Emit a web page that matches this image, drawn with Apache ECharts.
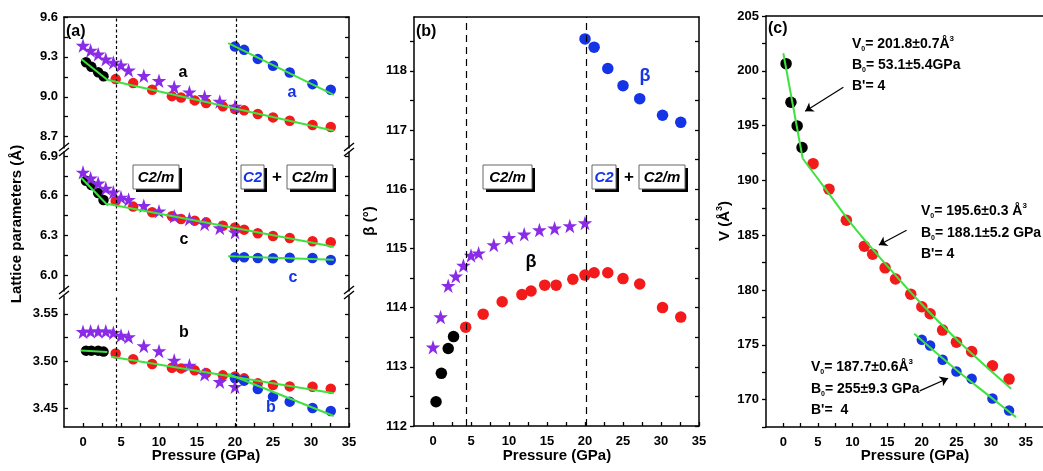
<!DOCTYPE html>
<html><head><meta charset="utf-8">
<script src="https://cdn.jsdelivr.net/npm/echarts@6/dist/echarts.min.js"></script>
<style>html,body{margin:0;padding:0;background:#fff}#c{width:1043px;height:471px}</style>
</head><body><div id="c"></div>
<script>
// ---------- data ----------
const P_black = [0.4, 1.1, 2.0, 2.7];
const P_star = [0, 1, 2, 3, 4, 5, 6, 8, 10, 12, 14, 16, 18, 20];
const P_red = [4.3, 6.6, 9.1, 11.7, 12.9, 14.7, 16.2, 18.4, 20.0, 21.2, 23.0, 25.0, 27.2, 30.2, 32.6];
const P_blue = [20.0, 21.2, 23.0, 25.0, 27.2, 30.2, 32.6];
const P_transition = [4.35, 20.1];

// (a) lattice parameter a
const a_black = [9.26, 9.225, 9.185, 9.155];
const a_star = [9.385, 9.348, 9.32, 9.283, 9.258, 9.238, 9.2, 9.158, 9.12, 9.073, 9.035, 9.0, 8.965, 8.928];
const a_red = [9.133, 9.103, 9.053, 9.005, 8.995, 8.973, 8.953, 8.928, 8.908, 8.898, 8.87, 8.845, 8.82, 8.788, 8.773];
const a_blue = [9.378, 9.353, 9.285, 9.233, 9.183, 9.095, 9.053];
// (a) lattice parameter c
const c_black = [6.713, 6.68, 6.62, 6.567];
const c_star = [6.776, 6.731, 6.693, 6.655, 6.625, 6.587, 6.57, 6.524, 6.482, 6.444, 6.424, 6.386, 6.356, 6.323];
const c_red = [6.56, 6.517, 6.474, 6.444, 6.424, 6.411, 6.398, 6.373, 6.36, 6.343, 6.315, 6.295, 6.28, 6.255, 6.247];
const c_blue = [6.134, 6.134, 6.129, 6.126, 6.131, 6.129, 6.114];
// (a) lattice parameter b
const b_black = [3.511, 3.511, 3.511, 3.510];
const b_star = [3.531, 3.5315, 3.5315, 3.5315, 3.530, 3.527, 3.5255, 3.516, 3.5106, 3.5007, 3.4954, 3.4859, 3.478, 3.4728];
const b_red = [3.5081, 3.5018, 3.4968, 3.4929, 3.4922, 3.4901, 3.4873, 3.4848, 3.4837, 3.4816, 3.4763, 3.4746, 3.4731, 3.4728, 3.4707];
const b_blue = [3.4816, 3.4792, 3.4703, 3.4622, 3.4569, 3.4502, 3.447];
// fits in (a)
const fit_a_black = [[-0.2, 9.283], [3.2, 9.128]];
const fit_a_red = [[3.2, 9.128], [33.0, 8.745]];
const fit_a_blue = [[19.1, 9.403], [33.0, 9.015]];
const fit_c_black = [[-0.3, 6.739], [3.3, 6.524]];
const fit_c_red = [[3.3, 6.537], [33.0, 6.214]];
const fit_c_blue = [[19.1, 6.141], [33.0, 6.116]];
const fit_b_black = [[-0.3, 3.5113], [3.2, 3.5095]];
const fit_b_red = [[3.7, 3.5046], [33.0, 3.4657]];
const fit_b_blue = [[19.1, 3.4862], [33.0, 3.4417]];

// (b) beta angle
const beta_black = [112.41, 112.89, 113.31, 113.51];
const beta_star = [113.33, 113.84, 114.37, 114.53, 114.71, 114.88, 114.92, 115.06, 115.18, 115.24, 115.31, 115.34, 115.38, 115.43];
const beta_red = [113.67, 113.89, 114.10, 114.22, 114.28, 114.38, 114.38, 114.48, 114.55, 114.59, 114.59, 114.49, 114.40, 114.0, 113.84];
const beta_blue = [118.54, 118.40, 118.04, 117.75, 117.53, 117.25, 117.13];

// (c) volume
const V_black = [200.65, 197.13, 194.97, 193.0];
const V_red = [191.53, 189.2, 186.37, 184.0, 183.27, 182.02, 181.0, 179.62, 178.47, 177.83, 176.34, 175.24, 174.39, 173.09, 171.87];
const V_blue = [175.45, 174.94, 173.63, 172.57, 171.9, 170.1, 169.0];
const fit_V_black = [[0.0, 201.6], [2.8, 192.0]];
const fit_V_red = [[2.8, 192.0], [6, 189.3], [10, 185.9], [15, 182.2], [20, 178.7], [25, 175.5], [30, 172.6], [32.9, 171.0]];
const fit_V_blue = [[18.9, 176.0], [25, 172.7], [30, 170.2], [33.6, 168.4]];
// arrows (data coords in panel c): [from, to]
const arrows_c = [[[8.67, 198.5], [3.16, 196.3]], [[17.8, 185.46], [13.8, 184.1]], [[19.7, 170.8], [23.8, 171.95]]];

// tick labels
const xLabels = [0, 5, 10, 15, 20, 25, 30, 35];
const xTicks = [0, 2.5, 5, 7.5, 10, 12.5, 15, 17.5, 20, 22.5, 25, 27.5, 30, 32.5, 35];
const yA_labels = [8.7, 9.0, 9.3, 9.6];
const yA_ticks = [8.7, 8.85, 9.0, 9.15, 9.3, 9.45, 9.6];
const yC_labels = [6.0, 6.3, 6.6, 6.9];
const yC_ticks = [5.85, 6.0, 6.15, 6.3, 6.45, 6.6, 6.75, 6.9];
const yB_labels = [3.45, 3.50, 3.55];
const yB_ticks = [3.45, 3.475, 3.50, 3.525, 3.55];
const yBeta_labels = [112, 113, 114, 115, 116, 117, 118];
const yBeta_ticks = [112, 112.5, 113, 113.5, 114, 114.5, 115, 115.5, 116, 116.5, 117, 117.5, 118, 118.5];
const yV_labels = [170, 175, 180, 185, 190, 195, 200, 205];
const yV_ticks = [167.5, 170, 172.5, 175, 177.5, 180, 182.5, 185, 187.5, 190, 192.5, 195, 197.5, 200, 202.5, 205];

// ---------- style ----------
const FONT = '"Liberation Sans", Arial, sans-serif';
const RED = '#F21A1A', BLUE = '#1434E6', PURPLE = '#8A2BE8', GREEN = '#3EE23E', BLACK = '#000';
const STAR = 'path://M50,0 L61.8,35.4 L99,35.4 L69,57.3 L80.3,93 L50,71 L19.7,93 L31,57.3 L1,35.4 L38.2,35.4 Z';

const zip = (xs, ys) => xs.map((x, i) => [x, ys[i]]);

const grids = [
  {left: 64, top: 17, width: 285, height: 131},
  {left: 64, top: 152, width: 285, height: 139},
  {left: 64, top: 296, width: 285, height: 131},
  {left: 414, top: 17, width: 285, height: 409},
  {left: 766, top: 16, width: 290, height: 411}
];

const lineStyle = {color: '#000', width: 1.5};
function xAx(grid, opts) {
  return Object.assign({
    type: 'value', gridIndex: grid, min: -2.5, max: 35, position: 'bottom',
    axisLine: {show: true, onZero: false, lineStyle},
    axisTick: {show: true, inside: true, length: 4, customValues: xTicks, lineStyle: {width: 1.3}},
    axisLabel: {show: true, customValues: xLabels, margin: 9, color: '#000', fontFamily: FONT, fontWeight: 'bold', fontSize: 13},
    splitLine: {show: false}
  }, opts);
}
function topAx(grid, max) {
  return {type: 'value', gridIndex: grid, min: -2.5, max: max, position: 'top',
    axisLine: {show: true, onZero: false, lineStyle}, axisTick: {show: false}, axisLabel: {show: false}, splitLine: {show: false}};
}
function yAx(grid, min, max, labels, ticks, dec, inside, pos) {
  const show = pos !== 'right';
  return {
    type: 'value', gridIndex: grid, min, max, position: pos || 'left',
    axisLine: {show: true, onZero: false, lineStyle},
    axisTick: {show: true, inside: inside, length: 4, customValues: ticks, lineStyle: {width: 1.3}},
    axisLabel: {show: show, customValues: labels, margin: inside ? 6 : 7, color: '#000', fontFamily: FONT, fontWeight: 'bold', fontSize: 13,
      formatter: v => v.toFixed(dec)},
    splitLine: {show: false}
  };
}

const xAxis = [
  topAx(0, 35),                       // 0 grid0 (top edge)
  xAx(1, {show: false}),              // 1 grid1
  xAx(2, {}),                         // 2 grid2
  xAx(3, {}),                         // 3 grid3
  topAx(3, 35),                       // 4 grid3 top
  xAx(4, {max: 37.5}),                // 5 grid4
  topAx(4, 37.5)                      // 6 grid4 top
];
const yAxis = [
  yAx(0, 8.615, 9.6, yA_labels, yA_ticks, 1, true),
  yAx(0, 8.615, 9.6, yA_labels, yA_ticks, 1, true, 'right'),
  yAx(1, 5.879, 6.93, yC_labels, yC_ticks, 1, true),
  yAx(1, 5.879, 6.93, yC_labels, yC_ticks, 1, true, 'right'),
  yAx(2, 3.430, 3.569, yB_labels, yB_ticks, 2, true),
  yAx(2, 3.430, 3.569, yB_labels, yB_ticks, 2, true, 'right'),
  yAx(3, 112, 118.91, yBeta_labels, yBeta_ticks, 0, false),
  yAx(3, 112, 118.91, yBeta_labels, yBeta_ticks, 0, true, 'right'),
  yAx(4, 167.5, 205, yV_labels, yV_ticks, 0, false)
];

const series = [];
function sc(xs, ys, color, xi, yi, symbol, size, extra) {
  series.push(Object.assign({type: 'scatter', xAxisIndex: xi, yAxisIndex: yi, data: zip(xs, ys),
    symbol: symbol || 'circle', symbolSize: size || 11, itemStyle: {color: color, opacity: 1}, silent: true, z: 3}, extra || {}));
}
function fit(pts, xi, yi) {
  series.push({type: 'line', xAxisIndex: xi, yAxisIndex: yi, data: pts, showSymbol: false, symbol: 'none', smooth: pts.length > 2 ? 0.3 : false,
    lineStyle: {color: GREEN, width: 2}, silent: true, z: 5});
}
function vlines(dash) {
  return {silent: true, symbol: 'none', label: {show: false},
    lineStyle: {color: '#000', width: 1.2, type: dash}, data: P_transition.map(p => ({xAxis: p}))};
}

// panel (a)
const panelA = [
  {xi: 0, yi: 0, bl: a_black, st: a_star, rd: a_red, bu: a_blue, fits: [fit_a_black, fit_a_red, fit_a_blue]},
  {xi: 1, yi: 2, bl: c_black, st: c_star, rd: c_red, bu: c_blue, fits: [fit_c_black, fit_c_red, fit_c_blue]},
  {xi: 2, yi: 4, bl: b_black, st: b_star, rd: b_red, bu: b_blue, fits: [fit_b_black, fit_b_red, fit_b_blue]}
];
panelA.forEach(p => {
  sc(P_red, p.rd, RED, p.xi, p.yi, 'circle', 10.5, {markLine: vlines([3, 2.5])});
  sc(P_blue, p.bu, BLUE, p.xi, p.yi, 'circle', 10.5);
  sc(P_black, p.bl, BLACK, p.xi, p.yi, 'circle', 10.5);
  sc(P_star, p.st, PURPLE, p.xi, p.yi, STAR, 14.5);
  p.fits.forEach(f => fit(f, p.xi, p.yi));
});
// panel (b)
sc(P_red, beta_red, RED, 3, 6, 'circle', 11.5, {markLine: vlines([7, 5])});
sc(P_blue, beta_blue, BLUE, 3, 6, 'circle', 11.5);
sc(P_black, beta_black, BLACK, 3, 6, 'circle', 11.5);
sc(P_star, beta_star, PURPLE, 3, 6, STAR, 14.5);
// panel (c)
sc(P_red, V_red, RED, 5, 8, 'circle', 11.5);
sc(P_blue, V_blue, BLUE, 5, 8, 'circle', 10.5);
sc(P_black, V_black, BLACK, 5, 8, 'circle', 11.5, {markLine: {silent: true, symbol: ['none', 'arrow'], symbolSize: 8, label: {show: false},
  lineStyle: {color: '#000', width: 1.2, type: 'solid'},
  data: arrows_c.map(a => [{coord: a[0]}, {coord: a[1]}])}});
fit(fit_V_black, 5, 8);
fit(fit_V_red, 5, 8);
fit(fit_V_blue, 5, 8);

// ---------- graphic annotations ----------
const graphic = [];
function txt(x, y, text, opts) {
  graphic.push({type: 'text', x, y, z: 100, silent: true,
    style: Object.assign({text, font: `bold 16px ${FONT}`, fill: '#000', align: 'center', verticalAlign: 'middle',
      textAlign: 'center', textVerticalAlign: 'middle'}, opts || {})});
}
function box(x1, y1, x2, y2, label, color) {
  graphic.push({type: 'rect', z: 98, silent: true, shape: {x: x1 + 3, y: y1 + 3, width: x2 - x1, height: y2 - y1}, style: {fill: '#000'}});
  graphic.push({type: 'rect', z: 99, silent: true, shape: {x: x1, y: y1, width: x2 - x1, height: y2 - y1}, style: {fill: '#fff', stroke: '#666', lineWidth: 1}});
  txt((x1 + x2) / 2, (y1 + y2) / 2 + 0.5, label, {font: `italic bold 15px ${FONT}`, fill: color || '#000'});
}
function brk(x, y) {
  [0, 5].forEach(d => graphic.push({type: 'line', z: 100, silent: true,
    shape: {x1: x - 5, y1: y + d + 3, x2: x + 5, y2: y + d - 5}, style: {stroke: '#000', lineWidth: 1.4}}));
}
brk(64, 148); brk(349, 148); brk(64, 291); brk(349, 291);

// panel labels
txt(66, 32, '(a)', {align: 'left', textAlign: 'left'});
txt(416, 32, '(b)', {align: 'left', textAlign: 'left'});
txt(768, 29, '(c)', {align: 'left', textAlign: 'left'});
// series letters in (a)
txt(183, 73, 'a'); txt(292, 93, 'a', {fill: BLUE});
txt(184, 240, 'c'); txt(293, 278, 'c', {fill: BLUE});
txt(184, 333, 'b'); txt(271, 408, 'b', {fill: BLUE});
// beta letters in (b)
txt(531, 262, 'β', {font: `bold 18px ${FONT}`}); txt(645, 76, 'β', {font: `bold 18px ${FONT}`, fill: BLUE});
// phase boxes
box(133, 165, 179, 189, 'C2/m');
box(241, 165, 264, 189, 'C2', BLUE);
txt(277, 177, '+', {font: `bold 17px ${FONT}`});
box(287, 165, 333, 189, 'C2/m');
box(483, 165, 532, 189, 'C2/m');
box(592, 165, 616, 189, 'C2', BLUE);
txt(629, 177, '+', {font: `bold 17px ${FONT}`});
box(639, 165, 685, 189, 'C2/m');

// axis titles
const titleFont = `bold 15px ${FONT}`;
txt(206, 456, 'Pressure (GPa)', {font: titleFont});
txt(557, 456, 'Pressure (GPa)', {font: titleFont});
txt(915, 456, 'Pressure (GPa)', {font: titleFont});
graphic.push({type: 'text', x: 17, y: 224, rotation: Math.PI / 2, z: 100, silent: true,
  style: {text: 'Lattice parameters (Å)', font: titleFont, fill: '#000', align: 'center', verticalAlign: 'middle', textAlign: 'center', textVerticalAlign: 'middle'}});
graphic.push({type: 'text', x: 370, y: 221, rotation: Math.PI / 2, z: 100, silent: true,
  style: {text: 'β (°)', font: titleFont, fill: '#000', align: 'center', verticalAlign: 'middle', textAlign: 'center', textVerticalAlign: 'middle'}});
const richSS = {
  n: {fontSize: 14, fontWeight: 'bold', fontFamily: FONT, lineHeight: 18, verticalAlign: 'middle'},
  s: {fontSize: 7, fontWeight: 'bold', fontFamily: FONT, lineHeight: 18, verticalAlign: 'bottom', padding: [0, 0, 0, 0]},
  p: {fontSize: 8, fontWeight: 'bold', fontFamily: FONT, lineHeight: 18, verticalAlign: 'top'},
  pt: {fontSize: 9, fontWeight: 'bold', fontFamily: FONT, lineHeight: 20, verticalAlign: 'top'},
  nt: {fontSize: 15, fontWeight: 'bold', fontFamily: FONT, lineHeight: 20, verticalAlign: 'middle'}
};
graphic.push({type: 'text', x: 725, y: 221, rotation: Math.PI / 2, z: 100, silent: true,
  style: {text: '{nt|V (Å}{pt|3}{nt|)}', rich: richSS, font: titleFont, fill: '#000', align: 'center', verticalAlign: 'middle', textAlign: 'center', textVerticalAlign: 'middle'}});

function eos(x, y, lines) {
  lines.forEach((l, i) => graphic.push({type: 'text', x: x, y: y[i], z: 100, silent: true,
    style: {text: l, rich: richSS, font: `bold 14px ${FONT}`, fill: '#000', align: 'left', verticalAlign: 'middle', textAlign: 'left', textVerticalAlign: 'middle'}}));
}
eos(852, [44, 65, 86], ['{n|V}{s|0}{n|= 201.8±0.7Å}{p|3}', '{n|B}{s|0}{n|= 53.1±5.4GPa}', "{n|B'= 4}"]);
eos(921, [211, 233, 254], ['{n|V}{s|0}{n|= 195.6±0.3 Å}{p|3}', '{n|B}{s|0}{n|= 188.1±5.2 GPa}', "{n|B'= 4}"]);
eos(811, [367, 389, 410], ['{n|V}{s|0}{n|= 187.7±0.6Å}{p|3}', '{n|B}{s|0}{n|= 255±9.3 GPa}', "{n|B'=  4}"]);

const chart = echarts.init(document.getElementById('c'), null, {renderer: 'canvas'});
chart.setOption({animation: false, backgroundColor: '#fff', grid: grids, xAxis, yAxis, series, graphic});
</script></body></html>
